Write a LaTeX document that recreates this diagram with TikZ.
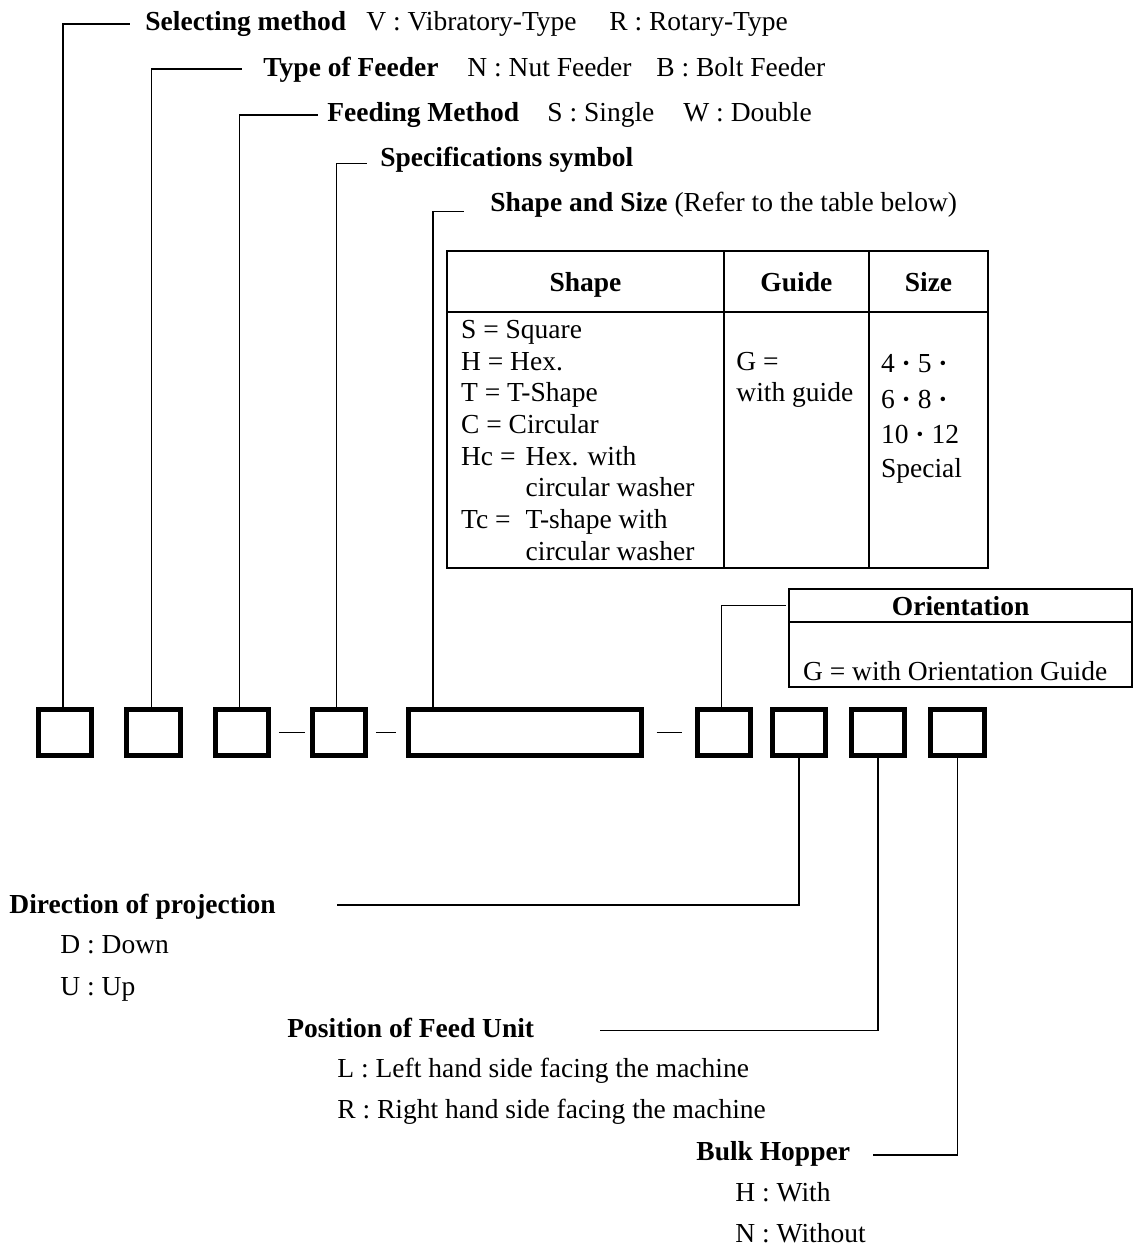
\documentclass[tikz,border=0pt]{standalone}
\usepackage{fontspec}
\setmainfont{Liberation Serif}
\usetikzlibrary{positioning}
\newcommand{\codefont}{\fontsize{13.75pt}{15.85pt}\selectfont}
\newcommand{\sdot}{\textbf{·}}

\begin{document}
\begin{tikzpicture}[
    x=0.5pt, y=-0.5pt,
    every node/.style={font=\codefont},
    txt/.style={anchor=base west, inner sep=0pt},
    hdtxt/.style={txt, font=\codefont\bfseries},
    codebox/.style={draw, line width=2.5pt, inner sep=0pt,
                    minimum width=26.65pt, minimum height=22.7pt},
    longbox/.style={codebox, minimum width=116.5pt},
    cell/.style={draw, line width=1pt, inner sep=0pt, outer sep=0pt,
                 text depth=0pt, font=\codefont\bfseries},
    conn/.style={line width=0.7pt},
    dashln/.style={line width=0.8pt},
]
\useasboundingbox (0,0) rectangle (1134,1247);

%% ── Code boxes ───────────────────────────────────────────────────────────────
\node[codebox] (b1) at (65.15,732.5) {};
\node[codebox, right=15pt of b1] (b2) {};
\node[codebox, right=15pt of b2] (b3) {};
\node[codebox, right=19.3pt of b3] (b4) {};
\node[longbox, right=19pt of b4] (size) {};
\node[codebox, right=25.35pt of size] (o1) {};
\node[codebox, right=8.5pt of o1] (o2) {};
\node[codebox, right=10.35pt of o2] (o3) {};
\node[codebox, right=10.65pt of o3] (o4) {};

\draw[dashln, shorten <=4pt, shorten >=2.3pt] (b3.east) -- (b4.west);
\draw[dashln, shorten <=4pt, shorten >=5pt] (b4.east) -- (size.west);
\draw[dashln, shorten <=6.35pt, shorten >=6.35pt] (size.east) -- (o1.west);

%% ── Upper labels ─────────────────────────────────────────────────────────────
\node[hdtxt] (sel) at (145,31) {Selecting method};
\node[txt] (selv) at (366,31) {V : Vibratory-Type};
\node[txt] (selr) at (609,31) {R : Rotary-Type};

\node[hdtxt] (typ) at (263,76) {Type of Feeder};
\node[txt] (typn) at (467,76) {N : Nut Feeder};
\node[txt] (typb) at (656,76) {B : Bolt Feeder};

\node[hdtxt] (feed) at (327,121.5) {Feeding Method};
\node[txt] (feeds) at (547,121.5) {S : Single};
\node[txt] (feedw) at (683,121.5) {W : Double};

\node[hdtxt] (spec) at (380,166.5) {Specifications symbol};

\node[txt] (shp) at (490,211.7) {\textbf{Shape and Size} (Refer to the table below)};

\coordinate (selend) at (130,24);
\coordinate (typend) at (242.3,69);
\coordinate (feedend) at (318.3,115);
\coordinate (specend) at (366.7,163.3);
\coordinate (shpend) at (464.3,211.7);

\draw[conn] ([xshift=-1pt]b1.north) |- (selend);
\draw[conn] ([xshift=-1pt]b2.north) |- (typend);
\draw[conn] ([xshift=-1pt]b3.north) |- (feedend);
\draw[conn] ([xshift=-1pt]b4.north) |- (specend);
\draw[conn] ([xshift=13.5pt]size.north west) |- (shpend);

%% ── Shape / Guide / Size table ───────────────────────────────────────────────
\node[cell, minimum width=138.2pt, minimum height=30.65pt] (th1) at (585.5,281.65) {Shape};
\node[cell, minimum width=72.65pt, minimum height=30.65pt, right=0pt of th1] (th2) {Guide};
\node[cell, minimum width=59.5pt, minimum height=30.65pt, right=0pt of th2] (th3) {Size};
\node[cell, minimum width=138.2pt, minimum height=127.7pt, below=0pt of th1] (tb1) {};
\node[cell, minimum width=72.65pt, minimum height=127.7pt, below=0pt of th2] (tb2) {};
\node[cell, minimum width=59.5pt, minimum height=127.7pt, below=0pt of th3] (tb3) {};

\foreach \s [count=\i from 0] in {S = Square, H = Hex., T = T-Shape, C = Circular,
    {\makebox[2.35em][l]{Hc =}Hex. with}, {\hspace*{2.35em}circular washer},
    {\makebox[2.35em][l]{Tc =}T-shape with}, {\hspace*{2.35em}circular washer}}
  \node[txt] (shp\i) at (460.7,338.3+31.7*\i) {\s};

\node[txt] (gd1) at (736,370) {G =};
\node[txt] (gd2) at (736,401.7) {with guide};

\foreach \s/\yy [count=\i] in {4 \sdot{} 5 \sdot/372.7, 6 \sdot{} 8 \sdot/408,
    10 \sdot{} 12/443, Special/477}
  \node[txt] (sz\i) at (880.7,\yy) {\s};

%% ── Orientation ──────────────────────────────────────────────────────────────
\node[cell, minimum width=171.35pt, minimum height=16.5pt] (orhead) at (960.65,605.5) {Orientation};
\node[cell, minimum width=171.35pt, minimum height=32.5pt, below=0pt of orhead] (orbody) {};
\node[txt] (ortxt) at (802.7,680) {G = with Orientation Guide};

\draw[conn] ([xshift=-1pt]o1.north) |- ([xshift=-1.5pt]orhead.west);

%% ── Lower labels ─────────────────────────────────────────────────────────────
\node[hdtxt] (dir) at (9,913) {Direction of projection};
\node[txt] (dird) at (60,953) {D : Down};
\node[txt] (diru) at (60,995) {U : Up};

\node[hdtxt] (pos) at (287,1037) {Position of Feed Unit};
\node[txt] (posl) at (337,1077) {L : Left hand side facing the machine};
\node[txt] (posr) at (337,1118) {R : Right hand side facing the machine};

\node[hdtxt] (bulk) at (696,1160) {Bulk Hopper};
\node[txt] (bulkh) at (735,1201) {H : With};
\node[txt] (bulkn) at (735,1242) {N : Without};

\coordinate (dirend) at (337.3,905);
\coordinate (posend) at (600,1030.7);
\coordinate (bulkend) at (873.3,1155);

\draw[conn] (o2.south) |- (dirend);
\draw[conn] (o3.south) |- (posend);
\draw[conn] (o4.south) |- (bulkend);

\end{tikzpicture}
\end{document}
